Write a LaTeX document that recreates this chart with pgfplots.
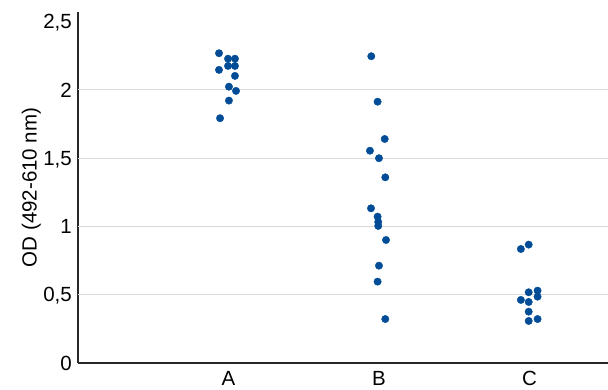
\documentclass[border=0pt]{standalone}
\usepackage{pgfplots}
\pgfplotsset{compat=1.18}
\usepackage{fontspec}
\setmainfont{Liberation Sans}
\definecolor{dotblue}{RGB}{0,76,151}
\definecolor{gridgray}{RGB}{217,217,217}
\definecolor{axisgray}{RGB}{40,40,40}
\begin{document}
\begin{tikzpicture}
\useasboundingbox (-78pt,-27pt) rectangle (530pt,363pt);
\begin{axis}[
  at={(0pt,0pt)}, anchor=south west,
  scale only axis, width=530pt, height=351pt,
  xmin=-1, xmax=2.522, ymin=0, ymax=2.571,
  axis x line=bottom, axis y line=left,
  axis line style={-, axisgray, line width=1.3pt},
  font=\fontsize{20.5}{24}\selectfont,
  xtick={0,1,2}, xticklabels={A,B,C},
  ytick={0,0.5,1,1.5,2,2.5},
  yticklabels={0,{0,5},1,{1,5},2,{2,5}},
  extra y ticks={0.5,1,1.5,2},
  extra y tick labels={},
  extra y tick style={grid=major, major grid style={gridgray, line width=1pt}},
  major tick length=0pt,
  tick style={draw=none},
  yticklabel style={anchor=east, inner sep=0pt, xshift=-6pt, text depth=0pt},
  xticklabel style={anchor=north, inner sep=0pt, yshift=-8pt},
  ylabel={OD (492-610 nm)},
  ylabel style={at={(axis description cs:0,0.5)}, anchor=base, yshift=41.3pt},
  clip=false,
]
\addplot[only marks, mark=*, mark size=3.7pt, mark options={fill=dotblue, draw=dotblue}] coordinates {
(-0.063,2.269) (-0.003,2.229) (0.043,2.229) (-0.063,2.147) (-0.003,2.176) (0.043,2.176)
(0.043,2.103) (0.003,2.024) (0.050,1.993) (0.003,1.922) (-0.056,1.793)
(0.949,2.247) (0.991,1.914) (1.038,1.641) (0.940,1.555) (1.000,1.500) (1.042,1.360)
(0.947,1.133) (0.991,1.072) (0.995,1.033) (0.995,1.004) (1.047,0.901) (1.000,0.713)
(0.991,0.596) (1.042,0.322)
(1.943,0.835) (1.995,0.867) (1.995,0.518) (2.054,0.530) (2.054,0.486) (1.943,0.462)
(1.995,0.447) (1.995,0.376) (1.995,0.308) (2.054,0.322)
};
\end{axis}
\end{tikzpicture}
\end{document}
